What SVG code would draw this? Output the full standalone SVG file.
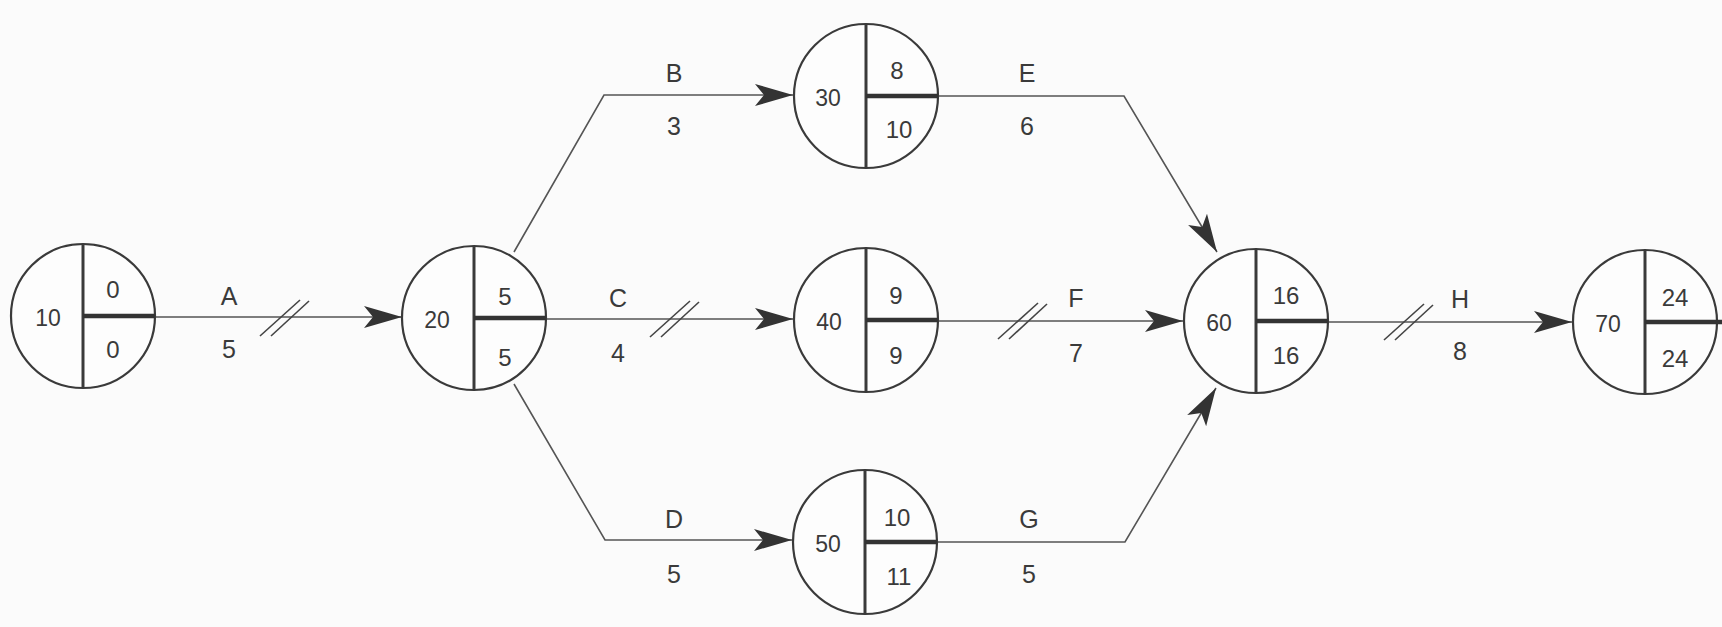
<svg xmlns="http://www.w3.org/2000/svg" width="1722" height="627" viewBox="0 0 1722 627">
<style>
.bg{fill:#fbfbfb}
.c{fill:#fdfdfd;stroke:#3a3a3a;stroke-width:2.2}
.v{stroke:#3a3a3a;stroke-width:3}
.h{stroke:#333;stroke-width:4.5}
.e{fill:none;stroke:#555;stroke-width:1.6}
.s{stroke:#444;stroke-width:1.6}
text{font-family:"Liberation Sans","DejaVu Sans",sans-serif;fill:#3a3a3a;text-anchor:middle}
.n{font-size:24px}
.id{font-size:23px}
.l{font-size:25px}
</style>
<defs>
<marker id="ah" markerUnits="userSpaceOnUse" markerWidth="40" markerHeight="24" refX="38" refY="12" orient="auto">
<path d="M0,1 L38,12 L0,23 L9,12 z" fill="#333"/>
</marker>
<g id="sl">
<line class="s" x1="-24" y1="18" x2="16" y2="-18"/>
<line class="s" x1="-13" y1="18" x2="25" y2="-17"/>
</g>
</defs>
<rect class="bg" x="0" y="0" width="1722" height="627"/>
<g id="connectors">
<path class="e" d="M155,317 L402,317" marker-end="url(#ah)"/>
<path class="e" d="M514,252 L604,95 L793,95" marker-end="url(#ah)"/>
<path class="e" d="M546,319 L793,319" marker-end="url(#ah)"/>
<path class="e" d="M514,384 L605,540 L792,540" marker-end="url(#ah)"/>
<path class="e" d="M938,96 L1124,96 L1217,252" marker-end="url(#ah)"/>
<path class="e" d="M938,321 L1183,321" marker-end="url(#ah)"/>
<path class="e" d="M937,542 L1125,542 L1216,388" marker-end="url(#ah)"/>
<path class="e" d="M1328,322 L1572,322" marker-end="url(#ah)"/>
<use href="#sl" x="284" y="318"/>
<use href="#sl" x="674" y="319"/>
<use href="#sl" x="1022" y="321"/>
<use href="#sl" x="1408" y="322"/>
<text class="l" x="229" y="305">A</text><text class="l" x="229" y="358">5</text>
<text class="l" x="674" y="82">B</text><text class="l" x="674" y="135">3</text>
<text class="l" x="618" y="307">C</text><text class="l" x="618" y="362">4</text>
<text class="l" x="674" y="528">D</text><text class="l" x="674" y="583">5</text>
<text class="l" x="1027" y="82">E</text><text class="l" x="1027" y="135">6</text>
<text class="l" x="1076" y="307">F</text><text class="l" x="1076" y="362">7</text>
<text class="l" x="1029" y="528">G</text><text class="l" x="1029" y="583">5</text>
<text class="l" x="1460" y="308">H</text><text class="l" x="1460" y="360">8</text>
</g>
<g id="node10">
<circle class="c" cx="83" cy="316" r="72"/>
<line class="v" x1="83" y1="244" x2="83" y2="388"/>
<line class="h" x1="83" y1="316" x2="155" y2="316"/>
<text class="id" x="48" y="326">10</text>
<text class="n" x="113" y="298">0</text>
<text class="n" x="113" y="358">0</text>
</g>
<g id="node20">
<circle class="c" cx="474" cy="318" r="72"/>
<line class="v" x1="474" y1="246" x2="474" y2="390"/>
<line class="h" x1="474" y1="318" x2="546" y2="318"/>
<text class="id" x="437" y="328">20</text>
<text class="n" x="505" y="305">5</text>
<text class="n" x="505" y="366">5</text>
</g>
<g id="node30">
<circle class="c" cx="866" cy="96" r="72"/>
<line class="v" x1="866" y1="24" x2="866" y2="168"/>
<line class="h" x1="866" y1="96" x2="938" y2="96"/>
<text class="id" x="828" y="106">30</text>
<text class="n" x="897" y="79">8</text>
<text class="n" x="899" y="138">10</text>
</g>
<g id="node40">
<circle class="c" cx="866" cy="320" r="72"/>
<line class="v" x1="866" y1="248" x2="866" y2="392"/>
<line class="h" x1="866" y1="320" x2="938" y2="320"/>
<text class="id" x="829" y="330">40</text>
<text class="n" x="896" y="304">9</text>
<text class="n" x="896" y="364">9</text>
</g>
<g id="node50">
<circle class="c" cx="865" cy="542" r="72"/>
<line class="v" x1="865" y1="470" x2="865" y2="614"/>
<line class="h" x1="865" y1="542" x2="937" y2="542"/>
<text class="id" x="828" y="552">50</text>
<text class="n" x="897" y="526">10</text>
<text class="n" x="899" y="585">11</text>
</g>
<g id="node60">
<circle class="c" cx="1256" cy="321" r="72"/>
<line class="v" x1="1256" y1="249" x2="1256" y2="393"/>
<line class="h" x1="1256" y1="321" x2="1328" y2="321"/>
<text class="id" x="1219" y="331">60</text>
<text class="n" x="1286" y="304">16</text>
<text class="n" x="1286" y="364">16</text>
</g>
<g id="node70">
<circle class="c" cx="1645" cy="322" r="72"/>
<line class="v" x1="1645" y1="250" x2="1645" y2="394"/>
<line class="h" x1="1645" y1="322" x2="1722" y2="322"/>
<text class="id" x="1608" y="332">70</text>
<text class="n" x="1675" y="306">24</text>
<text class="n" x="1675" y="367">24</text>
</g>
</svg>
